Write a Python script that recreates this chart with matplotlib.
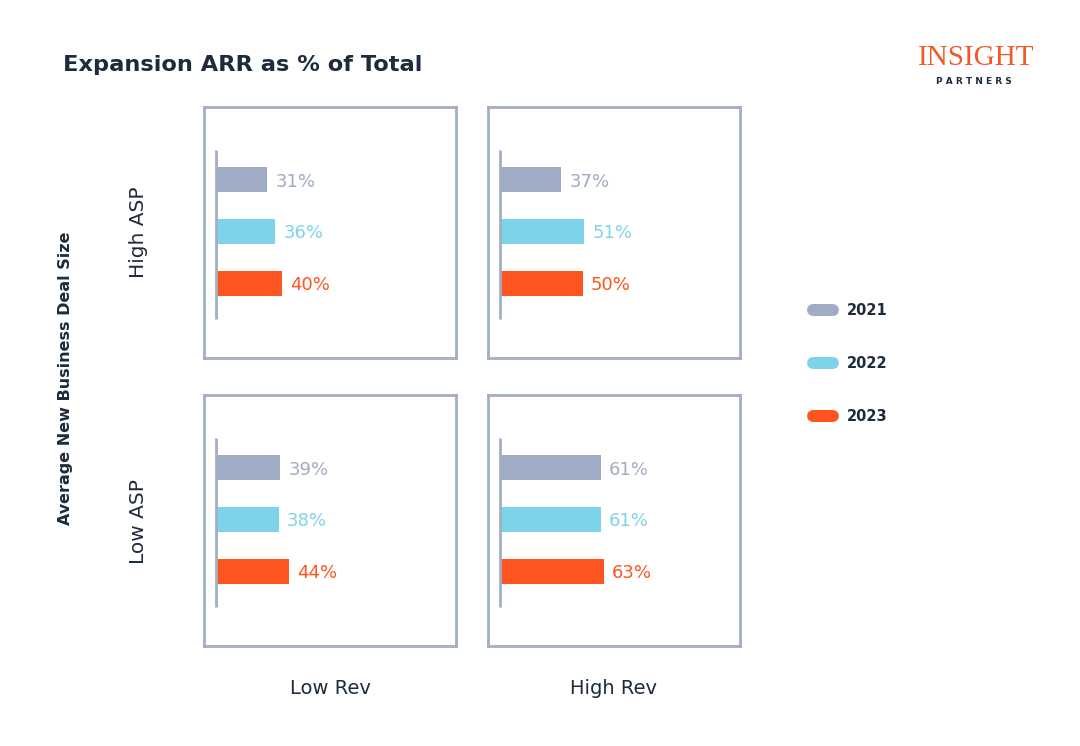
import numpy as np
import matplotlib.pyplot as plt
from matplotlib.lines import Line2D

# data
years = ['2021', '2022', '2023']
rev_labels = ['Low Rev', 'High Rev']
asp_labels = ['High ASP', 'Low ASP']
high_asp_low_rev = [31, 36, 40]
high_asp_high_rev = [37, 51, 50]
low_asp_low_rev = [39, 38, 44]
low_asp_high_rev = [61, 61, 63]

colors = ['#a0abc4', '#7dd3e8', '#fe541f']
navy = '#1d2b3c'
frame = '#a3adc4'

plt.rcParams['font.family'] = ['DejaVu Sans']

W, H = 1080, 746
fig = plt.figure(figsize=(W / 100, H / 100), dpi=100)


def px_axes(x0, y0, x1, y1):
    # pixel box (top-left origin) -> figure axes
    return fig.add_axes([x0 / W, 1 - y1 / H, (x1 - x0) / W, (y1 - y0) / H])


panels = [
    (204, 107, high_asp_low_rev),
    (488, 107, high_asp_high_rev),
    (204, 395, low_asp_low_rev),
    (488, 395, low_asp_high_rev),
]

y = np.arange(len(years))
for x0, y0, vals in panels:
    ax = px_axes(x0, y0, x0 + 252, y0 + 251)
    ax.barh(y, vals, height=0.48, color=colors)
    ax.vlines(0, -0.58, 2.69, color=frame, lw=2)
    for yi, v, c in zip(y, vals, colors):
        ax.text(v + 5, yi, f'{v}%', color=c, fontsize=13, va='center_baseline',
                ha='left')
    ax.set_xlim(-7.3, 145.5)
    ax.set_ylim(3.45, -1.41)
    ax.set_xticks([])
    ax.set_yticks([])
    for s in ax.spines.values():
        s.set_color(frame)
        s.set_linewidth(2)

# title
fig.text(63 / W, 1 - 63 / H, 'Expansion ARR as % of Total', fontsize=16.2,
         fontweight='bold', color=navy, va='center_baseline', ha='left')

# axis labels
fig.text(330 / W, 1 - 686 / H, rev_labels[0], fontsize=14, color=navy,
         ha='center', va='center_baseline')
fig.text(614 / W, 1 - 686 / H, rev_labels[1], fontsize=14, color=navy,
         ha='center', va='center_baseline')
fig.text(139 / W, 1 - 232 / H, asp_labels[0], fontsize=14.5, color=navy,
         ha='center', va='center', rotation=90)
fig.text(139 / W, 1 - 521 / H, asp_labels[1], fontsize=14.5, color=navy,
         ha='center', va='center', rotation=90)
fig.text(66 / W, 1 - 378 / H, 'Average New Business Deal Size', fontsize=11.5,
         fontweight='bold', color=navy, ha='center', va='center', rotation=90)

# legend
for i, (yr, c) in enumerate(zip(years, colors)):
    ly = 310 + 53 * i
    fig.add_artist(Line2D([813 / W, 833 / W], [1 - ly / H, 1 - ly / H],
                          transform=fig.transFigure, color=c, lw=8.6,
                          solid_capstyle='round'))
    fig.text(847 / W, 1 - (ly - 1) / H, yr, fontsize=10.5, fontweight='bold',
             color=navy, va='center_baseline', ha='left')

# logo
fig.text(976 / W, 1 - 58 / H, 'INSIGHT', fontsize=21, color='#f05a28',
         family='Liberation Serif', ha='center', va='center')
fig.text(974 / W, 1 - 82 / H, 'P A R T N E R S', fontsize=6.5, color=navy,
         fontweight='bold', ha='center', va='center')

fig.savefig('out.png', dpi=100)
